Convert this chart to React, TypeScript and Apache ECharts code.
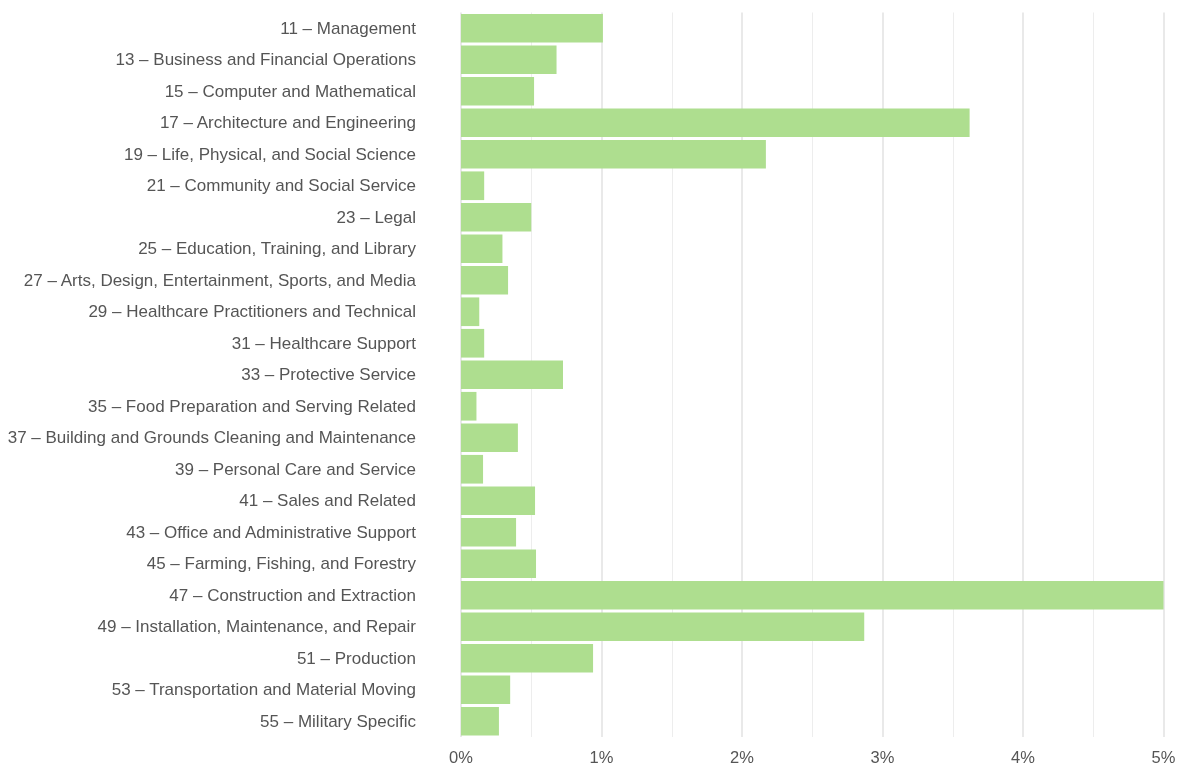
import React, { useEffect, useRef } from "react";
import * as echarts from "echarts";

const categories: string[] = [
  "11 – Management",
  "13 – Business and Financial Operations",
  "15 – Computer and Mathematical",
  "17 – Architecture and Engineering",
  "19 – Life, Physical, and Social Science",
  "21 – Community and Social Service",
  "23 – Legal",
  "25 – Education, Training, and Library",
  "27 – Arts, Design, Entertainment, Sports, and Media",
  "29 – Healthcare Practitioners and Technical",
  "31 – Healthcare Support",
  "33 – Protective Service",
  "35 – Food Preparation and Serving Related",
  "37 – Building and Grounds Cleaning and Maintenance",
  "39 – Personal Care and Service",
  "41 – Sales and Related",
  "43 – Office and Administrative Support",
  "45 – Farming, Fishing, and Forestry",
  "47 – Construction and Extraction",
  "49 – Installation, Maintenance, and Repair",
  "51 – Production",
  "53 – Transportation and Material Moving",
  "55 – Military Specific",
];

const values: number[] = [
  1.01, 0.68, 0.52, 3.62, 2.17, 0.165, 0.5, 0.295, 0.335, 0.13, 0.165, 0.726,
  0.11, 0.405, 0.157, 0.527, 0.392, 0.534, 5.0, 2.87, 0.94, 0.35, 0.27,
];

const xTicks = { min: 0, max: 5, interval: 1 };

export default function App() {
  const ref = useRef<HTMLDivElement>(null);
  useEffect(() => {
    if (!ref.current) return;
    const chart = echarts.init(ref.current, undefined, { renderer: "svg" });
    chart.setOption({
      animation: false,
      grid: { left: 461, right: 18.5, top: 12.5, bottom: 28, containLabel: false },
      xAxis: {
        type: "value",
        min: xTicks.min,
        max: xTicks.max,
        interval: xTicks.interval,
        axisLine: { show: false },
        axisTick: { show: false },
        axisLabel: {
          formatter: (v: number) => `${v}%`,
          color: "#555",
          fontSize: 16.5,
          fontFamily: "Liberation Sans, Arial, sans-serif",
          margin: 11,
        },
        splitLine: { show: true, lineStyle: { color: "#e9e9e9", width: 2 } },
        minorTick: { show: false, splitNumber: 2 },
        minorSplitLine: { show: true, lineStyle: { color: "#ededed", width: 1 } },
      },
      yAxis: {
        type: "category",
        data: categories,
        inverse: true,
        axisLine: { show: false },
        axisTick: { show: false },
        axisLabel: {
          color: "#555",
          fontSize: 17,
          fontFamily: "Liberation Sans, Arial, sans-serif",
          margin: 45,
        },
        splitLine: { show: false },
      },
      series: [
        {
          type: "bar",
          data: values,
          barCategoryGap: "9%",
          itemStyle: { color: "#aede8f" },
          clip: true,
        },
      ],
    });
    return () => chart.dispose();
  }, []);
  return (
    <div
      ref={ref}
      style={{ position: "fixed", left: 0, top: 0, width: 1182, height: 765 }}
    />
  );
}
